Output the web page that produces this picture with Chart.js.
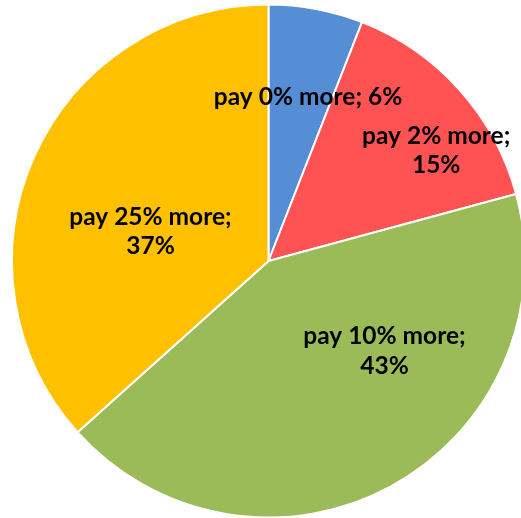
<!DOCTYPE html>
<html>
<head>
<meta charset="utf-8">
<script src="https://cdn.jsdelivr.net/npm/chart.js@4/dist/chart.umd.min.js"></script>
<style>
  html, body { margin: 0; padding: 0; background: #ffffff; overflow: hidden; }
  #wrap { position: relative; width: 521px; height: 518px; }
</style>
</head>
<body>
<div id="wrap"><canvas id="c" width="521" height="518"></canvas></div>
<script>
// ---- data ----
const categories = ["pay 0% more", "pay 2% more", "pay 10% more", "pay 25% more"];
const shares = [6, 15, 43, 37];
const shareLabels = ["6%", "15%", "43%", "37%"];
const colors = ["#558ED5", "#FF5252", "#9BBB59", "#FFC000"];
// label lines as shown in the chart
const labelLines = [
  ["pay 0% more; 6%"],
  ["pay 2% more;", "15%"],
  ["pay 10% more;", "43%"],
  ["pay 25% more;", "37%"]
];
// label placement: angle (deg clockwise from top) and fraction of the radius
const labelAngle = [13.6, 56.6, 127.9, 283.9];
const labelRadius = [0.656, 0.783, 0.573, 0.474];

const labelPlugin = {
  id: 'sliceLabels',
  afterDatasetsDraw(chart) {
    const ctx = chart.ctx;
    const meta = chart.getDatasetMeta(0);
    ctx.save();
    ctx.font = "bold 24.5px Lato, 'Open Sans', sans-serif";
    ctx.fillStyle = "#000000";
    ctx.textAlign = "center";
    ctx.textBaseline = "middle";
    meta.data.forEach((arc, i) => {
      const r = arc.outerRadius;
      const a = labelAngle[i] * Math.PI / 180;
      const x = arc.x + Math.sin(a) * r * labelRadius[i];
      const y = arc.y - Math.cos(a) * r * labelRadius[i];
      const lines = labelLines[i];
      const lh = 29.5;
      lines.forEach((t, k) => {
        ctx.fillText(t, x, y + (k - (lines.length - 1) / 2) * lh);
      });
    });
    ctx.restore();
  }
};

new Chart(document.getElementById('c'), {
  type: 'pie',
  data: {
    labels: categories,
    datasets: [{
      data: shares,
      backgroundColor: colors,
      borderColor: "#ffffff",
      borderWidth: 2,
      radius: 256.5,
      clip: false
    }]
  },
  options: {
    responsive: false,
    animation: false,
    layout: { padding: { left: 16, right: 0, top: 4, bottom: 0 } },
    plugins: {
      legend: { display: false },
      tooltip: { enabled: false }
    }
  },
  plugins: [labelPlugin]
});
</script>
</body>
</html>
